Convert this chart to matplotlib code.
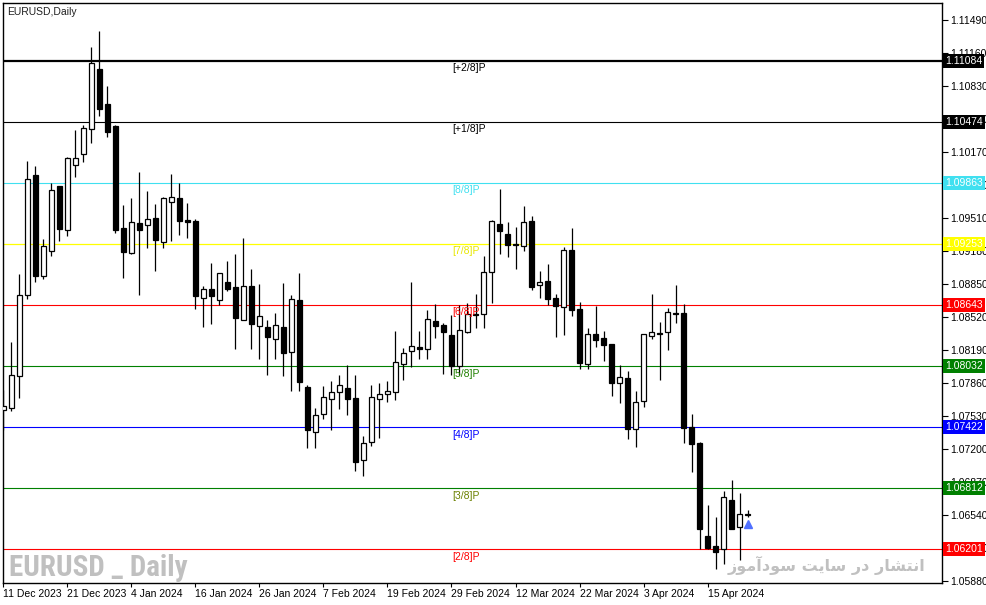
import matplotlib
matplotlib.use('Agg')
import matplotlib.pyplot as plt
import matplotlib.transforms as mtransforms
from matplotlib import font_manager

# EURUSD daily candles, 11 Dec 2023 .. 22 Apr 2024
opens = [1.0759, 1.0761, 1.0793, 1.0874, 1.0994, 1.0893, 1.0918, 1.0983, 1.0939, 1.1004,
         1.1015, 1.1040, 1.1100, 1.1065, 1.1043, 1.0941, 1.0916, 1.0946, 1.0944, 1.0951,
         1.0927, 1.0967, 1.0971, 1.0949, 1.0948, 1.0871, 1.0880, 1.0869, 1.0887, 1.0882,
         1.0849, 1.0883, 1.0843, 1.0842, 1.0830, 1.0842, 1.0817, 1.0869, 1.0782, 1.0737,
         1.0755, 1.0770, 1.0777, 1.0781, 1.0771, 1.0709, 1.0727, 1.0770, 1.0775, 1.0777,
         1.0805, 1.0818, 1.0822, 1.0820, 1.0848, 1.0844, 1.0834, 1.0803, 1.0837, 1.0855,
         1.0855, 1.0897, 1.0945, 1.0935, 1.0925, 1.0923, 1.0948, 1.0884, 1.0888, 1.0871,
         1.0862, 1.0919, 1.0860, 1.0805, 1.0835, 1.0831, 1.0825, 1.0786, 1.0791, 1.0740,
         1.0768, 1.0833, 1.0836, 1.0837, 1.0856, 1.0856, 1.0742, 1.0726, 1.0633, 1.0623,
         1.0620, 1.0669, 1.0642, 1.0655]
highs = [1.0779, 1.0827, 1.0895, 1.1008, 1.1003, 1.0930, 1.0986, 1.0983, 1.1012, 1.1039,
         1.1044, 1.1122, 1.1138, 1.1083, 1.1044, 1.0964, 1.0971, 1.0997, 1.0978, 1.0965,
         1.0972, 1.0995, 1.0986, 1.0966, 1.0950, 1.0883, 1.0906, 1.0896, 1.0908, 1.0915,
         1.0931, 1.0900, 1.0885, 1.0849, 1.0856, 1.0886, 1.0874, 1.0896, 1.0784, 1.0761,
         1.0783, 1.0788, 1.0794, 1.0804, 1.0794, 1.0733, 1.0784, 1.0786, 1.0788, 1.0838,
         1.0821, 1.0887, 1.0838, 1.0859, 1.0865, 1.0846, 1.0854, 1.0864, 1.0866, 1.0875,
         1.0913, 1.0949, 1.0980, 1.0947, 1.0942, 1.0963, 1.0953, 1.0898, 1.0905, 1.0875,
         1.0922, 1.0941, 1.0867, 1.0841, 1.0863, 1.0838, 1.0825, 1.0804, 1.0798, 1.0778,
         1.0835, 1.0875, 1.0847, 1.0861, 1.0884, 1.0865, 1.0755, 1.0727, 1.0664, 1.0652,
         1.0678, 1.0689, 1.0676, 1.0659]
lows = [1.0739, 1.0758, 1.0771, 1.0870, 1.0887, 1.0890, 1.0913, 1.0928, 1.0933, 1.0992,
        1.1007, 1.1026, 1.1053, 1.1032, 1.0936, 1.0891, 1.0915, 1.0874, 1.0921, 1.0898,
        1.0921, 1.0928, 1.0934, 1.0931, 1.0860, 1.0842, 1.0845, 1.0864, 1.0878, 1.0820,
        1.0849, 1.0820, 1.0810, 1.0794, 1.0810, 1.0793, 1.0778, 1.0778, 1.0721, 1.0721,
        1.0750, 1.0739, 1.0760, 1.0754, 1.0698, 1.0693, 1.0723, 1.0731, 1.0767, 1.0769,
        1.0789, 1.0802, 1.0810, 1.0810, 1.0831, 1.0795, 1.0794, 1.0794, 1.0836, 1.0841,
        1.0841, 1.0866, 1.0915, 1.0912, 1.0900, 1.0918, 1.0879, 1.0871, 1.0864, 1.0832,
        1.0834, 1.0853, 1.0800, 1.0800, 1.0822, 1.0808, 1.0773, 1.0766, 1.0730, 1.0722,
        1.0762, 1.0830, 1.0789, 1.0819, 1.0846, 1.0726, 1.0697, 1.0620, 1.0620, 1.0600,
        1.0605, 1.0640, 1.0609, 1.0652]
closes = [1.0763, 1.0794, 1.0874, 1.0990, 1.0893, 1.0923, 1.0979, 1.0940, 1.1011, 1.1011,
          1.1041, 1.1106, 1.1060, 1.1037, 1.0939, 1.0917, 1.0947, 1.0939, 1.0950, 1.0929,
          1.0971, 1.0972, 1.0948, 1.0947, 1.0873, 1.0880, 1.0873, 1.0896, 1.0880, 1.0851,
          1.0883, 1.0845, 1.0853, 1.0832, 1.0844, 1.0816, 1.0870, 1.0787, 1.0739, 1.0754,
          1.0772, 1.0777, 1.0784, 1.0770, 1.0707, 1.0726, 1.0772, 1.0775, 1.0778, 1.0807,
          1.0816, 1.0823, 1.0820, 1.0850, 1.0843, 1.0837, 1.0803, 1.0839, 1.0855, 1.0854,
          1.0897, 1.0948, 1.0938, 1.0924, 1.0924, 1.0947, 1.0882, 1.0887, 1.0870, 1.0863,
          1.0919, 1.0859, 1.0806, 1.0835, 1.0829, 1.0824, 1.0786, 1.0792, 1.0740, 1.0767,
          1.0835, 1.0837, 1.0835, 1.0857, 1.0855, 1.0741, 1.0725, 1.0640, 1.0621, 1.0617,
          1.0672, 1.0640, 1.0655, 1.0654]

date_ticks = ['11 Dec 2023', '21 Dec 2023', '4 Jan 2024', '16 Jan 2024', '26 Jan 2024',
              '7 Feb 2024', '19 Feb 2024', '29 Feb 2024', '12 Mar 2024', '22 Mar 2024',
              '3 Apr 2024', '15 Apr 2024']

# Murrey math levels
level_names = ['[+2/8]P', '[+1/8]P', '[8/8]P', '[7/8]P', '[6/8]P', '[5/8]P', '[4/8]P', '[3/8]P', '[2/8]P']
level_values = [1.11084, 1.10474, 1.09863, 1.09253, 1.08643, 1.08032, 1.07422, 1.06812, 1.06201]
level_colors = ['#000000', '#000000', '#40e0f0', '#ffff00', '#ff0000', '#008000', '#0000ff', '#008000', '#ff0000']
level_text_colors = ['#000000', '#000000', '#40e0f0', '#e8e800', '#ff0000', '#208000', '#0000ff', '#6b8000', '#ff0000']
level_widths = [1.6, 0.8, 0.8, 0.9, 0.8, 0.8, 0.8, 0.8, 0.8]

price_ticks = [1.05880 + 0.0033 * i for i in range(18)]

plt.rcParams['font.family'] = ['Liberation Sans', 'DejaVu Sans']

fig = plt.figure(figsize=(9.87, 6.05), dpi=100)
ax = fig.add_axes([3 / 987, 22 / 605, 939 / 987, 580 / 605])

n = len(opens)
idx = list(range(n))
ax.vlines(idx, lows, highs, color='black', linewidth=0.9, zorder=3)
bottoms = [min(o, c) for o, c in zip(opens, closes)]
heights = [max(abs(c - o), 0.00002) for o, c in zip(opens, closes)]
faces = ['white' if c >= o else 'black' for o, c in zip(opens, closes)]
ax.bar(idx, heights, bottom=bottoms, width=0.62, color=faces, edgecolor='black',
       linewidth=0.9, zorder=4)

# levels with names and price boxes
trans = mtransforms.blended_transform_factory(ax.transAxes, ax.transData)
for name, val, col, tcol, lw in zip(level_names, level_values, level_colors, level_text_colors, level_widths):
    ax.axhline(val, color=col, linewidth=lw, zorder=2)
    ax.annotate(name, xy=(56.1, val), xytext=(0, -2), textcoords='offset points',
                ha='left', va='top', fontsize=7.5, color=tcol, zorder=5)
    ax.text(1.003, val, '%.5f' % val, transform=trans, ha='left', va='center',
            fontsize=7.5, color='white', zorder=10, clip_on=False,
            bbox=dict(boxstyle='square,pad=0.2', fc=col, ec='none'))

# current-price arrow
ax.plot([93], [1.0645], marker='^', markersize=6, color='#5070ff', zorder=6)

ax.set_xlim(-0.05, 117.3)
ax.set_ylim(1.0586, 1.1166)

ax.yaxis.tick_right()
ax.set_yticks(price_ticks)
ax.set_yticklabels(['%.5f' % p for p in price_ticks])
ax.tick_params(axis='y', direction='out', length=4, width=0.8, labelsize=7.5, pad=2)

ax.set_xticks(list(range(0, 8 * len(date_ticks), 8)))
ax.set_xticklabels(date_ticks)
ax.tick_params(axis='x', direction='out', length=3, width=0.8, labelsize=7.5, pad=1)
for lbl in ax.get_xticklabels():
    lbl.set_ha('left')

for sp in ax.spines.values():
    sp.set_linewidth(1.0)
    sp.set_color('black')

ax.text(0.004, 0.993, 'EURUSD,Daily', transform=ax.transAxes, ha='left', va='top',
        fontsize=7.5, color='#202020')

# big grey watermark, narrow bold face when one is installed
installed = {f.name for f in font_manager.fontManager.ttflist}
wm_family, wm_size = 'Liberation Sans', 17
for fam in ['Liberation Sans Narrow', 'Roboto Condensed', 'DejaVu Sans Condensed']:
    if fam in installed:
        wm_family, wm_size = fam, 21
        break
ax.text(0.006, 0.012, 'EURUSD _ Daily', transform=ax.transAxes, ha='left', va='baseline',
        fontsize=wm_size, fontweight='bold', color='#c0c0c0',
        family=[wm_family, 'DejaVu Sans'], zorder=1)

# Persian watermark, pre-shaped presentation forms in visual order
fa_text = ('\ufeaf\ufeee\ufee3\ufe81\ufea9\ufeee\ufeb3 '
           '\ufe96\ufef3\ufe8e\ufeb3 '
           '\ufead\ufea9 '
           '\ufead\ufe8e\ufeb8\ufe98\ufee7\ufe8d')
ax.text(0.982, 0.03, fa_text, transform=ax.transAxes, ha='right', va='center',
        fontsize=11.5, fontweight='bold', color='#c0c0c0', family=['DejaVu Sans'], zorder=1)

fig.savefig('out.png', dpi=100)
